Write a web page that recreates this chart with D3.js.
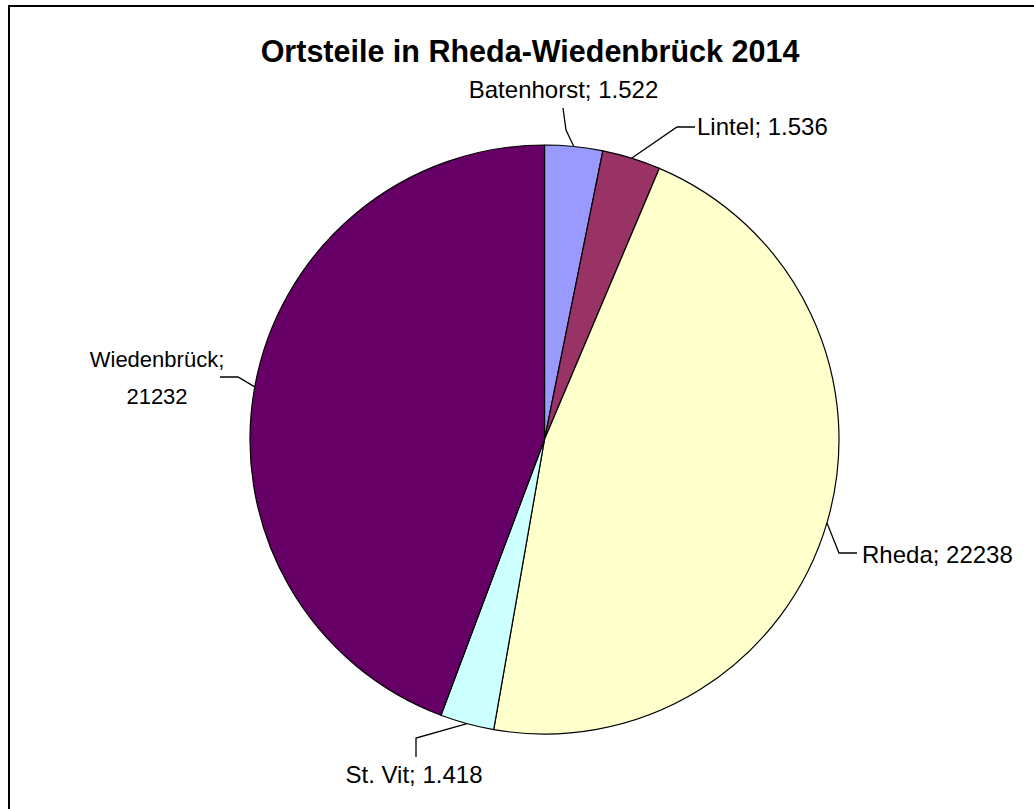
<!DOCTYPE html>
<html>
<head>
<meta charset="utf-8">
<script src="https://cdn.jsdelivr.net/npm/d3@7"></script>
<style>
  html, body { margin: 0; padding: 0; background: #fff; }
  svg { display: block; }
  text { font-family: "Liberation Sans", Arial, sans-serif; fill: #000; }
</style>
</head>
<body>
<svg id="chart" width="1034" height="809"></svg>
<script>
// ---- data ----
const title = "Ortsteile in Rheda-Wiedenbrück 2014";
const categories = ["Batenhorst", "Lintel", "Rheda", "St. Vit", "Wiedenbrück"];
const values = [1522, 1536, 22238, 1418, 21232];
const valueLabels = ["1.522", "1.536", "22238", "1.418", "21232"];
const colors = ["#9999FF", "#993366", "#FFFFCC", "#CCFFFF", "#660066"];

// ---- layout (label placement, leader elbows) ----
const W = 1034, H = 809;
const cx = 544.5, cy = 439.5, R = 294.5;
const labelLayout = [
  { elbow: [[566, 130], [563, 108]], text: [563.5, 98], anchor: "middle", lines: 1, size: 24 },
  { elbow: [[677, 127], [695, 127]], text: [697, 135], anchor: "start", lines: 1, size: 24 },
  { elbow: [[839, 553], [857, 553]], text: [862, 563], anchor: "start", lines: 1, size: 24 },
  { elbow: [[416, 738], [416, 757]], text: [414, 783], anchor: "middle", lines: 1, size: 24 },
  { elbow: [[238, 377], [220, 377]], text: [157, 367], anchor: "middle", lines: 2, size: 22 }
];

const svg = d3.select("#chart");

// frame
svg.append("rect")
  .attr("x", 9).attr("y", 6)
  .attr("width", W + 10).attr("height", H + 10)
  .attr("fill", "#fff").attr("stroke", "#000").attr("stroke-width", 2);

// title
svg.append("text")
  .attr("x", 530).attr("y", 62)
  .attr("text-anchor", "middle")
  .attr("font-weight", "bold")
  .attr("font-size", 30.5)
  .text(title);

const data = categories.map((c, i) => ({ name: c, value: values[i], label: valueLabels[i], color: colors[i], layout: labelLayout[i] }));

const pie = d3.pie().value(d => d.value).sort(null);
const arc = d3.arc().innerRadius(0).outerRadius(R);
const arcs = pie(data);

const g = svg.append("g").attr("transform", `translate(${cx},${cy})`);

g.selectAll("path.slice")
  .data(arcs)
  .join("path")
  .attr("class", "slice")
  .attr("d", arc)
  .attr("fill", d => d.data.color)
  .attr("stroke", "#000")
  .attr("stroke-width", 1.2)
  .attr("stroke-linejoin", "round");

// leader lines and labels
const line = d3.line();
arcs.forEach(a => {
  const mid = (a.startAngle + a.endAngle) / 2;
  const p0 = [cx + R * Math.sin(mid), cy - R * Math.cos(mid)];
  const pts = [p0, ...a.data.layout.elbow];
  svg.append("path")
    .attr("d", line(pts))
    .attr("fill", "none")
    .attr("stroke", "#000")
    .attr("stroke-width", 1.3);

  const L = a.data.layout;
  const t = svg.append("text")
    .attr("x", L.text[0]).attr("y", L.text[1])
    .attr("text-anchor", L.anchor)
    .attr("font-size", L.size);
  if (L.lines === 1) {
    t.text(`${a.data.name}; ${a.data.label}`);
  } else {
    t.append("tspan").attr("x", L.text[0]).attr("dy", 0).text(`${a.data.name};`);
    t.append("tspan").attr("x", L.text[0]).attr("dy", 37).text(a.data.label);
  }
});
</script>
</body>
</html>
